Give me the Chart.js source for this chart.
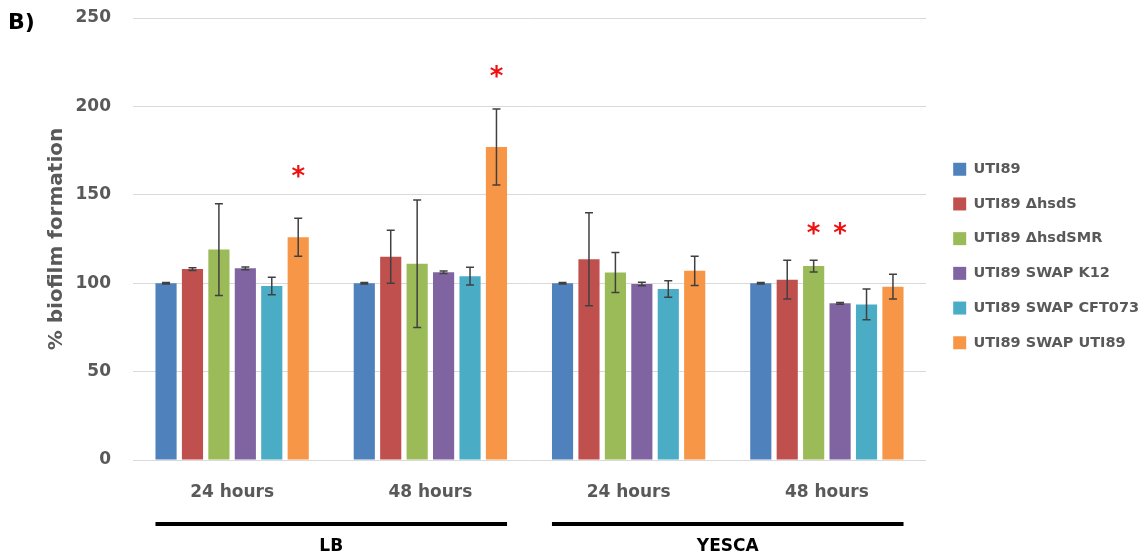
<!DOCTYPE html>
<html>
<head>
<meta charset="utf-8">
<script src="https://cdn.jsdelivr.net/npm/chart.js@4.4.1/dist/chart.umd.min.js"></script>
<style>
    html, body { margin: 0; padding: 0; background: #fff; }
    #wrap { position: relative; width: 1142px; height: 559px; }
</style>
</head>
<body>
<div id="wrap"><canvas id="biofilmChart"></canvas></div>
<script>
// Timepoints on the x axis, two per growth medium
const timepoints = ['24 hours', '48 hours', '24 hours', '48 hours'];
const media = ['LB', 'YESCA'];

// Strains (legend order) and their colours
const strains = ['UTI89', 'UTI89 ΔhsdS', 'UTI89 ΔhsdSMR', 'UTI89 SWAP K12', 'UTI89 SWAP CFT073', 'UTI89 SWAP UTI89'];
const strainColors = ['#4F81BD', '#C0504D', '#9BBB59', '#8064A2', '#4BACC6', '#F79646'];

// % biofilm formation, one array per strain (LB 24h, LB 48h, YESCA 24h, YESCA 48h)
const uti89 = [100, 100, 100, 100];
const hsdS = [108, 115, 113.5, 102];
const hsdSMR = [119, 111, 106, 109.7];
const swapK12 = [108.4, 106.2, 99.5, 88.6];
const swapCFT073 = [98.4, 104, 96.7, 88];
const swapUTI89 = [126, 177, 107, 98];

// Error bar half-widths, same layout
const uti89Err = [0.4, 0.4, 0.4, 0.4];
const hsdSErr = [0.8, 15, 26.3, 11];
const hsdSMRErr = [26, 36, 11.3, 3.3];
const swapK12Err = [0.8, 0.7, 1, 0.5];
const swapCFT073Err = [5, 5, 4.7, 8.7];
const swapUTI89Err = [10.7, 21.5, 8.3, 7];

// Significance asterisks: strain index, timepoint index, height on the y scale
const starStrain = [5, 5, 2, 3];
const starTime = [0, 1, 3, 3];
const starLevel = [163, 219.5, 131, 131];

// Y axis ticks
const yTicks = [0, 50, 100, 150, 200, 250];

const seriesValues = [uti89, hsdS, hsdSMR, swapK12, swapCFT073, swapUTI89];
const seriesErrors = [uti89Err, hsdSErr, hsdSMRErr, swapK12Err, swapCFT073Err, swapUTI89Err];

const FONT = '"DejaVu Sans", "Liberation Sans", sans-serif';
const GREY_TEXT = '#595959';

// Draws error bars, asterisks, the medium brackets and the panel letter
const extrasPlugin = {
    id: 'extras',
    afterLayout(chart) {
        // nudge the legend to where it sits in the original figure
        const lg = chart.legend;
        lg.left += 7; lg.right += 7;
        lg.top += 17; lg.bottom += 17;
    },
    afterDatasetsDraw(chart) {
        const ctx = chart.ctx;
        const y = chart.scales.y;

        // error bars
        ctx.save();
        ctx.strokeStyle = '#404040';
        ctx.lineWidth = 1.5;
        seriesValues.forEach((vals, i) => {
            const meta = chart.getDatasetMeta(i);
            meta.data.forEach((bar, j) => {
                const top = y.getPixelForValue(vals[j] + seriesErrors[i][j]);
                const bot = y.getPixelForValue(vals[j] - seriesErrors[i][j]);
                ctx.beginPath();
                ctx.moveTo(bar.x, top); ctx.lineTo(bar.x, bot);
                ctx.moveTo(bar.x - 4, top); ctx.lineTo(bar.x + 4, top);
                ctx.moveTo(bar.x - 4, bot); ctx.lineTo(bar.x + 4, bot);
                ctx.stroke();
            });
        });
        ctx.restore();

        // asterisks
        ctx.save();
        ctx.fillStyle = '#F01010';
        ctx.font = 'bold 26px ' + FONT;
        ctx.textAlign = 'center';
        ctx.textBaseline = 'alphabetic';
        const m = ctx.measureText('*');
        const shift = (m.actualBoundingBoxAscent - m.actualBoundingBoxDescent) / 2;
        starStrain.forEach((s, k) => {
            const bar = chart.getDatasetMeta(s).data[starTime[k]];
            ctx.fillText('*', bar.x, y.getPixelForValue(starLevel[k]) + shift);
        });
        ctx.restore();
    },
    afterDraw(chart) {
        const ctx = chart.ctx;
        const x = chart.scales.x;
        const first = chart.getDatasetMeta(0).data;
        const last = chart.getDatasetMeta(strains.length - 1).data;

        ctx.save();
        ctx.fillStyle = '#000';
        ctx.strokeStyle = '#000';
        ctx.lineWidth = 4;
        ctx.font = 'bold 17px ' + FONT;
        ctx.textAlign = 'center';
        ctx.textBaseline = 'middle';
        media.forEach((name, k) => {
            const a = first[2 * k];
            const b = last[2 * k + 1];
            const left = a.x - a.width / 2;
            const right = b.x + b.width / 2;
            ctx.beginPath();
            ctx.moveTo(left, x.top + 64);
            ctx.lineTo(right, x.top + 64);
            ctx.stroke();
            ctx.fillText(name, (left + right) / 2, x.top + 87);
        });

        // panel letter
        ctx.textAlign = 'left';
        ctx.font = 'bold 22px ' + FONT;
        ctx.fillText('B)', 8, 23);
        ctx.restore();
    }
};

document.addEventListener('DOMContentLoaded', () => {
    const canvas = document.getElementById('biofilmChart');

    canvas.chart = new Chart(canvas, {
        type: 'bar',
        data: {
            labels: timepoints,
            datasets: strains.map((name, i) => ({
                label: name,
                data: seriesValues[i],
                backgroundColor: strainColors[i],
                borderWidth: 0,
                categoryPercentage: 0.8,
                barPercentage: 0.8
            }))
        },
        options: {
            responsive: true,
            maintainAspectRatio: false,
            animation: false,
            layout: {
                padding: { top: 18, left: 0, right: 0, bottom: 0 }
            },
            plugins: {
                tooltip: { enabled: false },
                legend: {
                    position: 'right',
                    fullSize: false,
                    maxWidth: 216,
                    labels: {
                        boxWidth: 13,
                        boxHeight: 13,
                        padding: 20.2,
                        color: GREY_TEXT,
                        font: { family: FONT, size: 14.5, weight: 'bold' }
                    }
                }
            },
            scales: {
                x: {
                    grid: { display: false, drawTicks: false },
                    border: { display: false },
                    ticks: {
                        padding: 22,
                        color: GREY_TEXT,
                        font: { family: FONT, size: 17, weight: 'bold' }
                    },
                    afterFit: (scale) => { scale.height = 99; }
                },
                y: {
                    min: 0,
                    max: 250,
                    afterBuildTicks: (scale) => { scale.ticks = yTicks.map(v => ({ value: v })); },
                    grid: {
                        color: '#D9D9D9',
                        lineWidth: 1,
                        drawTicks: true,
                        tickLength: 22,
                        tickColor: 'rgba(0,0,0,0)'
                    },
                    border: { display: false },
                    ticks: {
                        padding: 0,
                        color: GREY_TEXT,
                        font: { family: FONT, size: 17, weight: 'bold' }
                    },
                    title: {
                        display: true,
                        text: '% biofilm formation',
                        color: GREY_TEXT,
                        padding: { top: 45, bottom: 0 },
                        font: { family: FONT, size: 20, weight: 'bold' }
                    },
                    afterFit: (scale) => { scale.width = 133; }
                }
            }
        },
        plugins: [extrasPlugin]
    });
});
</script>
</body>
</html>
